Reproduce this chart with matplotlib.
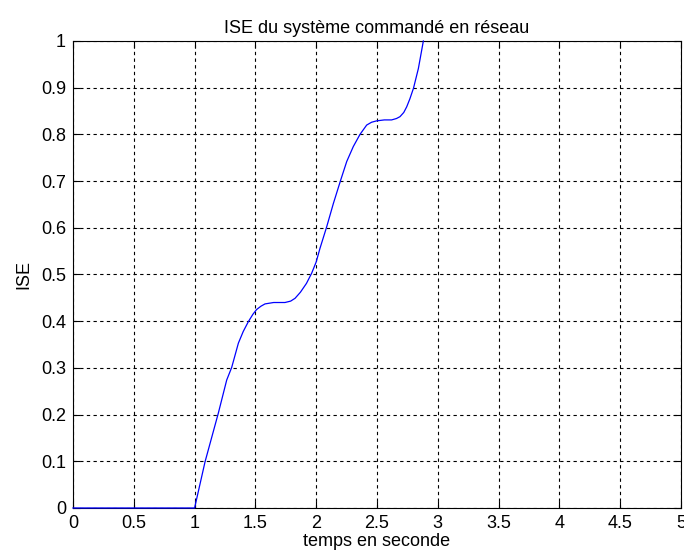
import matplotlib.pyplot as plt

plt.rcParams['font.family'] = ['Liberation Sans', 'DejaVu Sans']

# valeurs
t = [0.0, 1.0, 1.086, 1.195, 1.264, 1.305, 1.36, 1.40, 1.442, 1.48, 1.51,
     1.545, 1.579, 1.65, 1.743, 1.79, 1.826, 1.87, 1.92, 1.963, 2.0, 2.031,
     2.086, 2.141, 2.201, 2.251, 2.305, 2.36, 2.415, 2.455, 2.497, 2.56, 2.62,
     2.66, 2.689, 2.72, 2.744, 2.77, 2.80, 2.84, 2.881]
ise = [0.0, 0.0, 0.099, 0.203, 0.274, 0.301, 0.353, 0.378, 0.399, 0.415, 0.425,
       0.432, 0.437, 0.44, 0.44, 0.443, 0.449, 0.462, 0.481, 0.503, 0.527, 0.556,
       0.602, 0.652, 0.702, 0.742, 0.774, 0.80, 0.82, 0.826, 0.829, 0.831, 0.831,
       0.834, 0.838, 0.847, 0.859, 0.876, 0.899, 0.941, 1.0]

xticks = [0, 0.5, 1, 1.5, 2, 2.5, 3, 3.5, 4, 4.5, 5]
yticks = [0, 0.1, 0.2, 0.3, 0.4, 0.5, 0.6, 0.7, 0.8, 0.9, 1]

fig = plt.figure(figsize=(6.84, 5.57), dpi=100)
ax = fig.add_axes([0.1067, 0.088, 0.889, 0.8384])

ax.plot(t, ise, color='#0000ff', linewidth=0.9, clip_on=False, zorder=3)

ax.set_xlim(0, 5)
ax.set_ylim(0, 1)
ax.set_xticks(xticks)
ax.set_yticks(yticks)
ax.set_xticklabels([f'{v:g}' for v in xticks])
ax.set_yticklabels([f'{v:g}' for v in yticks])
ax.grid(True, color='black', linestyle=(0, (3, 3)), linewidth=0.8)
ax.tick_params(direction='in', top=True, right=True, length=5, width=0.8,
               labelsize=13, pad=5)
for s in ax.spines.values():
    s.set_linewidth(0.8)

ax.set_title('ISE du système commandé en réseau', fontsize=13, pad=6)
ax.set_xlabel('temps en seconde', fontsize=13, labelpad=1)
ax.set_ylabel('ISE', fontsize=13, labelpad=6)

fig.savefig('out.png', dpi=100)
